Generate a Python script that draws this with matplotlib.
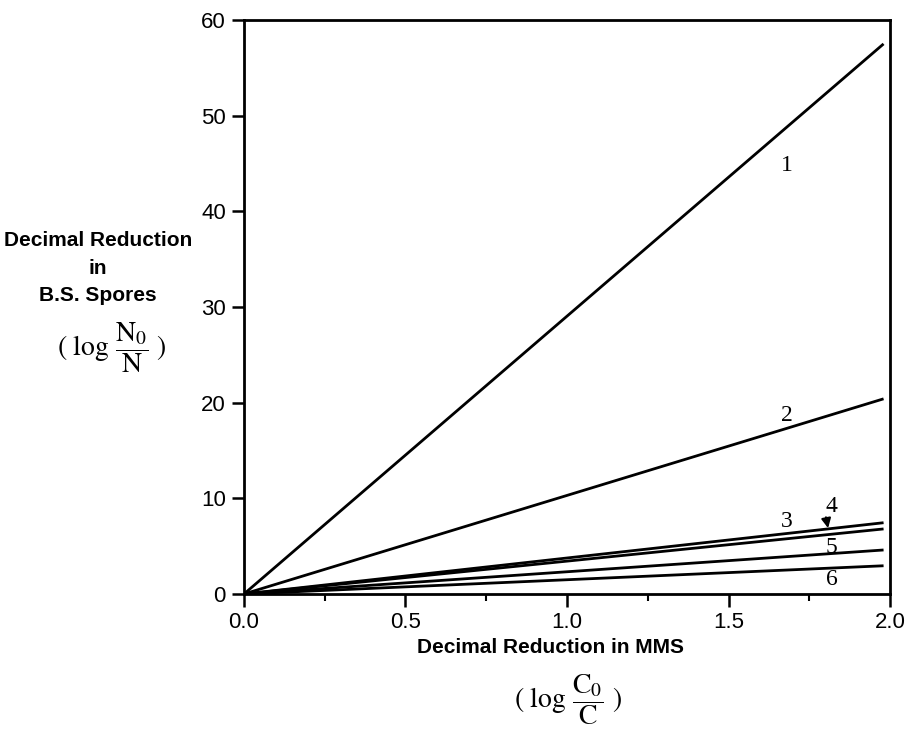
import matplotlib
matplotlib.use("Agg")
from matplotlib import pyplot as plt
from matplotlib.ticker import MultipleLocator

# straight lines through the origin, read at both ends
x_ends = [0.0, 1.98]
line_ids = ["1", "2", "3", "4", "5", "6"]
y_ends = [
    [0.0, 57.5],
    [0.0, 20.4],
    [0.0, 7.45],
    [0.0, 6.8],
    [0.0, 4.6],
    [0.0, 2.95],
]
# where each number is written
label_x = [1.68, 1.68, 1.68, 1.82, 1.82, 1.82]
label_y = [44.8, 18.7, 7.6, 9.1, 4.9, 1.5]

plt.rcParams['font.family'] = ['Liberation Sans', 'DejaVu Sans']
plt.rcParams['mathtext.fontset'] = 'stix'

fig = plt.figure(figsize=(9.08, 7.29), dpi=100)
ax = fig.add_axes([0.2687, 0.1852, 0.7115, 0.7874])

for ys in y_ends:
    ax.plot(x_ends, ys, color='black', lw=2.0, solid_capstyle='butt')

for lab, lx, ly in zip(line_ids, label_x, label_y):
    ax.text(lx, ly, lab, fontsize=17, family='Liberation Serif',
            ha='center', va='center')

# arrow from label 4 down to line 4
ax.annotate('', xy=(1.81, 6.6), xytext=(1.80, 8.3),
            arrowprops=dict(arrowstyle='-|>', color='black', lw=1.5,
                            mutation_scale=14))

ax.set_xlim(0, 2.0)
ax.set_ylim(0, 60)
ax.xaxis.set_major_locator(MultipleLocator(0.5))
ax.xaxis.set_minor_locator(MultipleLocator(0.25))
ax.yaxis.set_major_locator(MultipleLocator(10))
ax.set_xticks([0, 0.5, 1.0, 1.5, 2.0])
ax.set_xticklabels(['0.0', '0.5', '1.0', '1.5', '2.0'])
ax.tick_params(which='major', direction='out', length=9, width=1.8,
               labelsize=16, pad=4)
ax.tick_params(which='minor', direction='out', length=5, width=1.5)
for s in ax.spines.values():
    s.set_linewidth(2.0)

# x axis title
fig.text(0.606, 0.112, 'Decimal Reduction in MMS', fontsize=15,
         fontweight='bold', ha='center', va='center')
fig.text(0.625, 0.040, r'$(\ \log\,\dfrac{\mathrm{C}_0}{\mathrm{C}}\ )$',
         fontsize=20, ha='center', va='center')

# y axis title
fig.text(0.108, 0.670, 'Decimal Reduction', fontsize=15,
         fontweight='bold', ha='center', va='center')
fig.text(0.108, 0.632, 'in', fontsize=15,
         fontweight='bold', ha='center', va='center')
fig.text(0.108, 0.594, 'B.S. Spores', fontsize=15,
         fontweight='bold', ha='center', va='center')
fig.text(0.123, 0.523, r'$(\ \log\,\dfrac{\mathrm{N}_0}{\mathrm{N}}\ )$',
         fontsize=20, ha='center', va='center')

plt.savefig('out.png', dpi=100)
